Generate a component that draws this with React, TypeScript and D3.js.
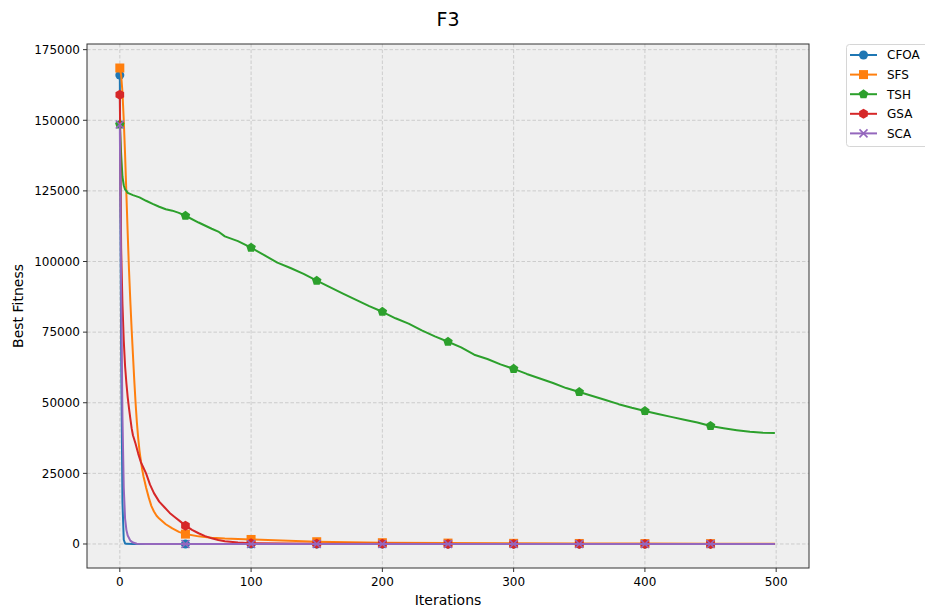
import React from "react";
import * as d3 from "d3";

const xTicks = [0, 100, 200, 300, 400, 500];
const yTicks = [0, 25000, 50000, 75000, 100000, 125000, 150000, 175000];
const seriesNames = ["CFOA", "SFS", "TSH", "GSA", "SCA"];
const seriesColors = ["#1f77b4", "#ff7f0e", "#2ca02c", "#d62728", "#9467bd"];
const seriesMarkers = ["circle", "square", "pentagon", "hexagon", "x"];

const cfoa: [number, number][] = [
  [0, 166000], [1, 70000], [2, 15000], [3, 1500], [4, 200], [5, 50], [10, 5],
  [50, 0], [100, 0], [150, 0], [200, 0], [250, 0], [300, 0], [350, 0], [400, 0], [450, 0], [499, 0],
];
const sfs: [number, number][] = [
  [0, 168500], [1, 166000], [2, 160000], [3, 150000], [4, 138000], [5, 124000], [6, 110000],
  [7, 97000], [8, 86000], [9, 76000], [10, 67000], [11, 58000], [12, 50000], [13, 43000],
  [14, 37500], [15, 33000], [16, 29500], [17, 26500], [18, 24000], [19, 22000], [20, 20000],
  [22, 16500], [24, 13500], [26, 11500], [28, 10000], [30, 9000], [35, 7000], [40, 5500],
  [45, 4300], [50, 3500], [60, 2700], [70, 2200], [80, 1900], [100, 1600], [150, 800],
  [200, 450], [250, 320], [300, 230], [350, 180], [400, 150], [450, 120], [499, 100],
];
const tsh: [number, number][] = [
  [0, 148500], [1, 138000], [2, 130000], [3, 127000], [4, 125500], [5, 125000], [6, 124300],
  [10, 123500], [15, 122700], [20, 121500], [25, 120400], [30, 119400], [35, 118500], [40, 118000],
  [45, 117200], [50, 116200], [60, 113800], [70, 111600], [75, 110600], [80, 108900], [90, 107200],
  [100, 104900], [110, 102300], [120, 99600], [130, 97700], [140, 95600], [150, 93200],
  [160, 90900], [170, 88600], [180, 86400], [190, 84200], [200, 82200], [210, 79900],
  [220, 78000], [230, 75600], [240, 73500], [250, 71600], [260, 69600], [270, 67000],
  [280, 65500], [290, 63600], [300, 62000], [310, 60200], [320, 58600], [330, 57000],
  [340, 55200], [350, 53800], [360, 52400], [370, 51000], [380, 49500], [390, 48200],
  [400, 47100], [410, 46000], [420, 45000], [430, 44000], [440, 43000], [450, 41800],
  [460, 41000], [470, 40300], [480, 39700], [490, 39400], [499, 39300],
];
const gsa: [number, number][] = [
  [0, 159000], [1, 105000], [2, 85000], [3, 72000], [4, 63000], [5, 57000], [6, 52000],
  [7, 48000], [8, 44500], [9, 41000], [10, 38500], [12, 35500], [14, 32000], [16, 29000],
  [18, 27000], [20, 25000], [23, 21000], [26, 18000], [30, 15000], [34, 13000], [38, 11000],
  [42, 9500], [46, 8000], [50, 6500], [55, 5000], [60, 3800], [65, 2800], [70, 2000],
  [75, 1400], [80, 1000], [90, 550], [100, 300], [150, 100], [200, 50], [250, 30],
  [300, 25], [350, 20], [400, 20], [450, 20], [499, 20],
];
const sca: [number, number][] = [
  [0, 148500], [1, 90000], [2, 45000], [3, 20000], [4, 9000], [5, 5000], [6, 3000],
  [8, 1200], [10, 500], [13, 100], [20, 10],
  [50, 0], [100, 0], [150, 0], [200, 0], [250, 0], [300, 0], [350, 0], [400, 0], [450, 0], [499, 0],
];
const allSeries = [cfoa, sfs, tsh, gsa, sca];
const markerIters = [0, 50, 100, 150, 200, 250, 300, 350, 400, 450];

const W = 925;
const H = 610;
const left = 87;
const right = 809;
const top = 44;
const bottom = 568;

const x = d3.scaleLinear().domain([-25, 525]).range([left, right]);
const y = d3.scaleLinear().domain([-8500, 177000]).range([bottom, top]);

function polyPath(n: number, r: number, rot: number) {
  const pts: string[] = [];
  for (let i = 0; i < n; i++) {
    const a = rot + (i * 2 * Math.PI) / n;
    pts.push(`${(r * Math.sin(a)).toFixed(2)},${(-r * Math.cos(a)).toFixed(2)}`);
  }
  return "M" + pts.join("L") + "Z";
}

function Marker({ kind, cx, cy, color }: { kind: string; cx: number; cy: number; color: string }) {
  const t = `translate(${cx},${cy})`;
  if (kind === "circle") return <circle cx={cx} cy={cy} r={4.5} fill={color} />;
  if (kind === "square") return <rect x={cx - 4.5} y={cy - 4.5} width={9} height={9} fill={color} />;
  if (kind === "pentagon") return <path transform={t} d={polyPath(5, 5, 0)} fill={color} />;
  if (kind === "hexagon") return <path transform={t} d={polyPath(6, 5, 0)} fill={color} />;
  return (
    <path transform={t} d="M-4,-4L4,4M-4,4L4,-4" stroke={color} strokeWidth={1.6} fill="none" />
  );
}

export default function App() {
  const line = d3
    .line<[number, number]>()
    .x((d) => x(d[0]))
    .y((d) => y(d[1]));
  const font = "DejaVu Sans, sans-serif";
  return (
    <svg
      width={W}
      height={H}
      style={{ position: "absolute", left: 0, top: 0, background: "#fff" }}
      fontFamily={font}
    >
      <defs>
        <clipPath id="plotclip">
          <rect x={left} y={top} width={right - left} height={bottom - top} />
        </clipPath>
      </defs>
      <text x={(left + right) / 2} y={26} textAnchor="middle" fontSize={19} fill="#000">
        F3
      </text>
      <rect x={left} y={top} width={right - left} height={bottom - top} fill="#efefef" />
      {xTicks.map((t) => (
        <line
          key={"gx" + t}
          x1={x(t)}
          x2={x(t)}
          y1={top}
          y2={bottom}
          stroke="#c8c8c8"
          strokeWidth={0.9}
          strokeDasharray="3.5,2"
        />
      ))}
      {yTicks.map((t) => (
        <line
          key={"gy" + t}
          x1={left}
          x2={right}
          y1={y(t)}
          y2={y(t)}
          stroke="#c8c8c8"
          strokeWidth={0.9}
          strokeDasharray="3.5,2"
        />
      ))}
      <g clipPath="url(#plotclip)">
        {allSeries.map((s, i) => (
          <g key={seriesNames[i]}>
            <path d={line(s) || ""} fill="none" stroke={seriesColors[i]} strokeWidth={2} strokeLinejoin="round" />
            {markerIters.map((it) => {
              const p = s.find((d) => d[0] === it);
              if (!p) return null;
              return <Marker key={it} kind={seriesMarkers[i]} cx={x(p[0])} cy={y(p[1])} color={seriesColors[i]} />;
            })}
          </g>
        ))}
      </g>
      <rect x={left} y={top} width={right - left} height={bottom - top} fill="none" stroke="#333" strokeWidth={1} />
      {xTicks.map((t) => (
        <g key={"tx" + t}>
          <line x1={x(t)} x2={x(t)} y1={bottom} y2={bottom + 4} stroke="#333" />
          <text x={x(t)} y={bottom + 18} textAnchor="middle" fontSize={12} fill="#000">
            {t}
          </text>
        </g>
      ))}
      {yTicks.map((t) => (
        <g key={"ty" + t}>
          <line x1={left - 4} x2={left} y1={y(t)} y2={y(t)} stroke="#333" />
          <text x={left - 7} y={y(t) + 4.3} textAnchor="end" fontSize={12} fill="#000">
            {t}
          </text>
        </g>
      ))}
      <text x={(left + right) / 2} y={605} textAnchor="middle" fontSize={14} fill="#000">
        Iterations
      </text>
      <text
        transform={`translate(23,${(top + bottom) / 2}) rotate(-90)`}
        textAnchor="middle"
        fontSize={14}
        fill="#000"
      >
        Best Fitness
      </text>
      <rect x={846.5} y={44.5} width={90} height={102} rx={3} fill="#fff" stroke="#d6d6d6" />
      {seriesNames.map((n, i) => {
        const ly = 55 + i * 19.6;
        return (
          <g key={"lg" + n}>
            <line x1={850} x2={877} y1={ly} y2={ly} stroke={seriesColors[i]} strokeWidth={2} />
            <Marker kind={seriesMarkers[i]} cx={863.5} cy={ly} color={seriesColors[i]} />
            <text x={887} y={ly + 4.3} fontSize={12} fill="#000">
              {n}
            </text>
          </g>
        );
      })}
    </svg>
  );
}
